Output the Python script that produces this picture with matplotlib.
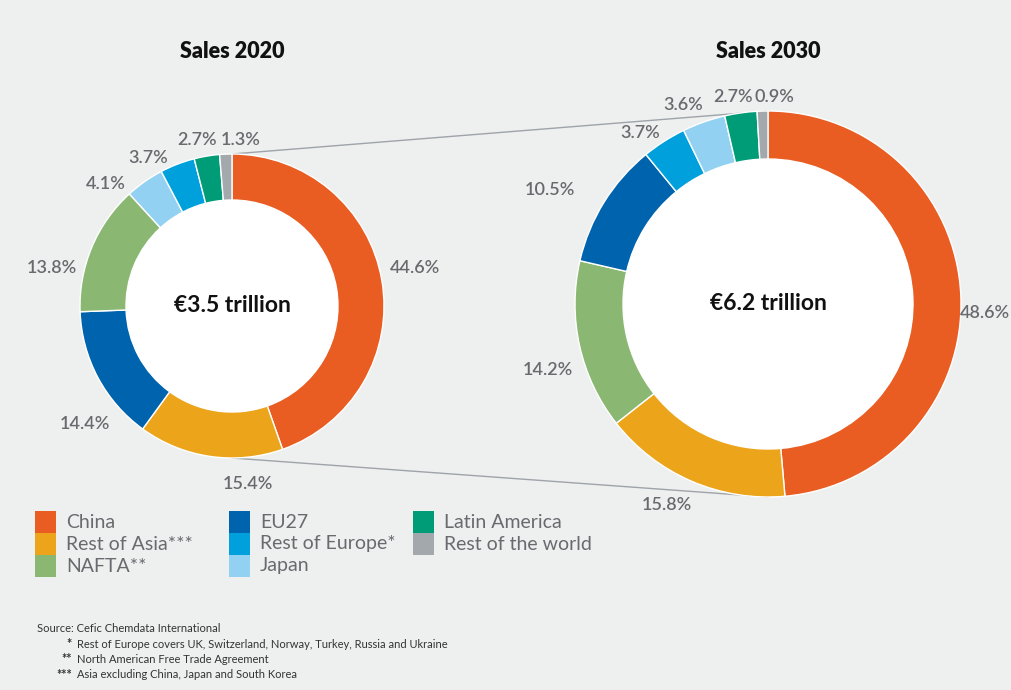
import matplotlib.pyplot as plt
from matplotlib.patches import Circle, Rectangle

plt.rcParams['font.family'] = ['Lato', 'DejaVu Sans']

# data (share of world chemical sales, %)
regions = ['China', 'Rest of Asia***', 'NAFTA**', 'EU27', 'Rest of Europe*',
           'Japan', 'Latin America', 'Rest of the world']
sales_2020 = [44.6, 15.4, 13.8, 14.4, 3.7, 4.1, 2.7, 1.3]
sales_2030 = [48.6, 15.8, 14.2, 10.5, 3.7, 3.6, 2.7, 0.9]
totals = ['€3.5 trillion', '€6.2 trillion']
titles = ['Sales 2020', 'Sales 2030']
colors = ['#e95d22', '#eca51b', '#8ab872', '#0063ad', '#00a0dc',
          '#92d1f1', '#009b77', '#a2a8ab']

W, H = 1011, 690
BG = '#eeefef'
GREY = '#696a6d'


def Y(y):
    return H - y


fig = plt.figure(figsize=(W / 100, H / 100), dpi=100, facecolor=BG)
ax = fig.add_axes([0, 0, 1, 1])
ax.set_facecolor(BG)

# donut geometry (pixels)
donuts = [dict(cx=232, cy=306, r=152, w=46),
          dict(cx=768, cy=304, r=193, w=48)]
# label centres, in order of descending share
label_pos = [
    [(415, 268), (248, 484), (85, 424), (52, 268), (106, 184), (148, 158), (197, 140), (241, 140)],
    [(985, 313), (667, 505), (548, 370), (550, 190), (640, 133), (683, 105), (733, 97), (774, 97)],
]

for k, vals in enumerate([sales_2020, sales_2030]):
    d = donuts[k]
    order = sorted(range(len(vals)), key=lambda i: -vals[i])
    v = [vals[i] for i in order]
    c = [colors[i] for i in order]
    ax.pie(v, colors=c, startangle=90, counterclock=False,
           center=(d['cx'], Y(d['cy'])), radius=d['r'],
           wedgeprops=dict(width=d['w'], edgecolor='white', linewidth=1))
    ax.add_patch(Circle((d['cx'], Y(d['cy'])), d['r'] - d['w'], facecolor='white',
                        edgecolor='none', zorder=3))
    ax.text(d['cx'], Y(d['cy']), totals[k], ha='center', va='center',
            fontsize=16.5, fontweight='bold', color='#111111', zorder=4)
    ax.text(d['cx'], Y(52), titles[k], ha='center', va='center',
            fontsize=15.5, fontweight='heavy', color='#111111')
    for (x, y), val in zip(label_pos[k], v):
        ax.text(x, Y(y), f'{val:.1f}%', ha='center', va='center',
                fontsize=13, fontweight='semibold', color=GREY)

# connector lines between the two donuts
a, b = donuts
ax.plot([a['cx'], b['cx']], [Y(a['cy'] - a['r']), Y(b['cy'] - b['r'])],
        color='#9ea4a9', lw=1, zorder=0)
ax.plot([a['cx'], b['cx']], [Y(a['cy'] + a['r']), Y(b['cy'] + b['r'])],
        color='#9ea4a9', lw=1, zorder=0)

# legend
leg_cols = [35, 229, 413]
for i, name in enumerate(regions):
    col, row = divmod(i, 3)
    x0 = leg_cols[col]
    y0 = 511 + row * 22
    ax.add_patch(Rectangle((x0, Y(y0 + 22)), 21, 22, facecolor=colors[i],
                           edgecolor='none'))
    ax.text(x0 + 31, Y(y0 + 11), name, ha='left', va='center',
            fontsize=14, color=GREY)

# footnotes
ax.text(37, Y(628), 'Source: Cefic Chemdata International', ha='left', va='center',
        fontsize=8, color='#333333')
notes = [('*', 'Rest of Europe covers UK, Switzerland, Norway, Turkey, Russia and Ukraine'),
         ('**', 'North American Free Trade Agreement'),
         ('***', 'Asia excluding China, Japan and South Korea')]
for j, (star, txt) in enumerate(notes):
    yy = Y(644 + j * 15.5)
    ax.text(72, yy, star, ha='right', va='center', fontsize=9,
            fontweight='bold', color='#333333')
    ax.text(77, yy, txt, ha='left', va='center', fontsize=8, color='#333333')

ax.set_xlim(0, W)
ax.set_ylim(0, H)
ax.set_aspect('auto')
ax.axis('off')

fig.savefig('out.png', dpi=100, facecolor=BG)
